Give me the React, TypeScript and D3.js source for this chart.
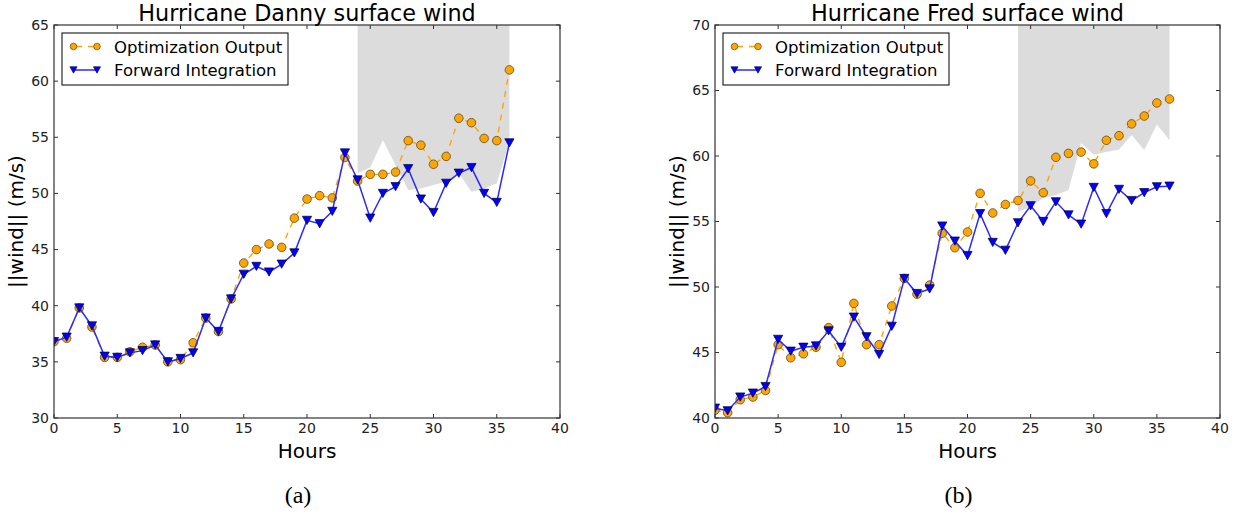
import React from "react";
import * as d3 from "d3";

const hours = [0, 1, 2, 3, 4, 5, 6, 7, 8, 9, 10, 11, 12, 13, 14, 15, 16, 17, 18, 19, 20, 21, 22, 23, 24, 25, 26, 27, 28, 29, 30, 31, 32, 33, 34, 35, 36];
const xTicks = [0, 5, 10, 15, 20, 25, 30, 35, 40];

const dannyOpt = [36.8, 37.1, 39.8, 38.1, 35.4, 35.4, 35.9, 36.3, 36.5, 35.0, 35.2, 36.7, 38.9, 37.7, 40.6, 43.8, 45.0, 45.5, 45.2, 47.8, 49.5, 49.8, 49.6, 53.2, 51.1, 51.7, 51.7, 51.9, 54.7, 54.3, 52.6, 53.3, 56.7, 56.3, 54.9, 54.7, 61.0];
const dannyFwd = [36.8, 37.2, 39.8, 38.2, 35.5, 35.4, 35.8, 36.0, 36.5, 35.0, 35.3, 35.8, 38.9, 37.7, 40.6, 42.8, 43.5, 43.0, 43.7, 44.7, 47.6, 47.3, 48.4, 53.6, 51.2, 47.8, 50.0, 50.6, 52.2, 49.5, 48.3, 50.9, 51.8, 52.3, 50.0, 49.2, 54.5];
const dannyBandHours = [24, 25, 26, 27, 28, 29, 30, 31, 32, 33, 34, 35, 36];
const dannyBandLow = [51.8, 52.3, 54.75, 52.5, 50.3, 50.45, 50.75, 51.05, 51.8, 50.15, 50.45, 50.9, 54.6];
const dannyYTicks = [30, 35, 40, 45, 50, 55, 60, 65];

const fredOpt = [40.6, 40.4, 41.4, 41.6, 42.1, 45.6, 44.6, 44.9, 45.4, 46.9, 44.25, 48.75, 45.6, 45.6, 48.55, 50.65, 49.45, 50.15, 54.1, 53.0, 54.2, 57.15, 55.65, 56.3, 56.6, 58.1, 57.2, 59.9, 60.2, 60.3, 59.4, 61.2, 61.55, 62.45, 63.05, 64.05, 64.35];
const fredFwd = [40.75, 40.55, 41.6, 41.9, 42.4, 46.0, 45.1, 45.4, 45.5, 46.65, 45.4, 47.7, 46.2, 44.85, 47.0, 50.65, 49.5, 49.85, 54.65, 53.5, 52.4, 55.6, 53.4, 52.8, 54.9, 56.2, 55.0, 56.5, 55.5, 54.8, 57.6, 55.6, 57.45, 56.6, 57.2, 57.65, 57.7];
const fredBandHours = [24, 25, 26, 27, 28, 29, 30, 31, 32, 33, 34, 35, 36];
const fredBandLow = [55.75, 56.1, 56.8, 57.0, 57.4, 61.0, 60.1, 60.3, 60.5, 61.6, 60.45, 62.4, 61.2];
const fredYTicks = [40, 45, 50, 55, 60, 65, 70];

const legendLabels = ["Optimization Output", "Forward Integration"];

const FONT = "'DejaVu Sans', sans-serif";
const ORANGE = "#ffa500";
const BLUE = "#0000ff";

type PanelProps = {
  left: number;
  right: number;
  top: number;
  bottom: number;
  title: string;
  caption: string;
  opt: number[];
  fwd: number[];
  bandHours: number[];
  bandLow: number[];
  yTicks: number[];
  id: string;
};

function tri(x: number, y: number, r: number) {
  return `M${x - r},${y - r * 0.9} L${x + r},${y - r * 0.9} L${x},${y + r * 0.9} Z`;
}

function Panel(p: PanelProps) {
  const x = d3.scaleLinear().domain([0, 40]).range([p.left, p.right]);
  const yMin = p.yTicks[0];
  const yMax = p.yTicks[p.yTicks.length - 1];
  const y = d3.scaleLinear().domain([yMin, yMax]).range([p.bottom, p.top]);

  const band = d3
    .area<number>()
    .x((_, i) => x(p.bandHours[i]))
    .y0((d) => y(d))
    .y1(() => y(yMax));
  const line = d3
    .line<number>()
    .x((_, i) => x(hours[i]))
    .y((d) => y(d));

  const cx = (p.left + p.right) / 2;
  const cy = (p.top + p.bottom) / 2;
  const tickLen = 4;
  const lx = p.left + 8;
  const ly = p.top + 8;

  return (
    <g>
      <defs>
        <clipPath id={"clip-" + p.id}>
          <rect x={p.left} y={p.top} width={p.right - p.left} height={p.bottom - p.top} />
        </clipPath>
      </defs>
      <g clipPath={`url(#clip-${p.id})`}>
        <path d={band(p.bandLow) || ""} fill="#dcdcdc" stroke="none" />
        <path d={line(p.opt) || ""} fill="none" stroke={ORANGE} strokeWidth={1.4} strokeDasharray="6,6" />
        {p.opt.map((v, i) => (
          <circle key={"o" + i} cx={x(hours[i])} cy={y(v)} r={4.3} fill={ORANGE} stroke="#5a4a2a" strokeWidth={0.8} />
        ))}
        <path d={line(p.fwd) || ""} fill="none" stroke="#2a2aff" strokeWidth={1.5} />
        {p.fwd.map((v, i) => (
          <path key={"f" + i} d={tri(x(hours[i]), y(v), 4.6)} fill={BLUE} stroke="#000033" strokeWidth={0.7} />
        ))}
      </g>
      <rect x={p.left} y={p.top} width={p.right - p.left} height={p.bottom - p.top} fill="none" stroke="#333" strokeWidth={1.2} />
      {xTicks.map((t) => (
        <g key={"xt" + t}>
          <line x1={x(t)} x2={x(t)} y1={p.bottom} y2={p.bottom - tickLen} stroke="#333" strokeWidth={1} />
          <line x1={x(t)} x2={x(t)} y1={p.top} y2={p.top + tickLen} stroke="#333" strokeWidth={1} />
          <text x={x(t)} y={p.bottom + 15} fontSize={14} fontFamily={FONT} textAnchor="middle" fill="#222">
            {t}
          </text>
        </g>
      ))}
      {p.yTicks.map((t) => (
        <g key={"yt" + t}>
          <line x1={p.left} x2={p.left + tickLen} y1={y(t)} y2={y(t)} stroke="#333" strokeWidth={1} />
          <line x1={p.right} x2={p.right - tickLen} y1={y(t)} y2={y(t)} stroke="#333" strokeWidth={1} />
          <text x={p.left - 5} y={y(t)} dy="0.35em" fontSize={14} fontFamily={FONT} textAnchor="end" fill="#222">
            {t}
          </text>
        </g>
      ))}
      <text x={cx} y={p.top - 4} fontSize={22.3} fontFamily={FONT} textAnchor="middle" fill="#000">
        {p.title}
      </text>
      <text x={cx} y={458} fontSize={20} fontFamily={FONT} textAnchor="middle" fill="#000">
        Hours
      </text>
      <text
        transform={`translate(${p.left - 31},${cy}) rotate(-90)`}
        fontSize={20}
        fontFamily={FONT}
        textAnchor="middle"
        fill="#000"
      >
        ||wind|| (m/s)
      </text>
      <text x={cx - 9} y={503} fontSize={24} fontFamily="'Liberation Serif', 'DejaVu Serif', serif" textAnchor="middle" fill="#000">
        {p.caption}
      </text>
      <rect x={lx} y={ly} width={226} height={52} fill="#fff" stroke="#000" strokeWidth={1} />
      <line x1={lx + 11} x2={lx + 35} y1={ly + 13.5} y2={ly + 13.5} stroke={ORANGE} strokeWidth={1.4} strokeDasharray="6,6" strokeDashoffset={-3} />
      <circle cx={lx + 11.5} cy={ly + 13.5} r={3.3} fill={ORANGE} stroke="#5a4a2a" strokeWidth={0.7} />
      <circle cx={lx + 35} cy={ly + 13.5} r={3.3} fill={ORANGE} stroke="#5a4a2a" strokeWidth={0.7} />
      <text x={lx + 52} y={ly + 19.5} fontSize={16.5} fontFamily={FONT} fill="#000">
        {legendLabels[0]}
      </text>
      <line x1={lx + 11.5} x2={lx + 35} y1={ly + 37} y2={ly + 37} stroke="#2a2aff" strokeWidth={1.5} />
      <path d={tri(lx + 11.5, ly + 37, 3.6)} fill={BLUE} stroke="#000033" strokeWidth={0.6} />
      <path d={tri(lx + 35, ly + 37, 3.6)} fill={BLUE} stroke="#000033" strokeWidth={0.6} />
      <text x={lx + 52} y={ly + 43} fontSize={16.5} fontFamily={FONT} fill="#000">
        {legendLabels[1]}
      </text>
    </g>
  );
}

export default function App() {
  return (
    <svg
      width={1237}
      height={516}
      style={{ position: "absolute", left: 0, top: 0, background: "#fff" }}
    >
      <rect x={0} y={0} width={1237} height={516} fill="#fff" />
      <Panel
        id="danny"
        left={54}
        right={560}
        top={25}
        bottom={418}
        title="Hurricane Danny surface wind"
        caption="(a)"
        opt={dannyOpt}
        fwd={dannyFwd}
        bandHours={dannyBandHours}
        bandLow={dannyBandLow}
        yTicks={dannyYTicks}
      />
      <Panel
        id="fred"
        left={715}
        right={1220}
        top={25}
        bottom={418}
        title="Hurricane Fred surface wind"
        caption="(b)"
        opt={fredOpt}
        fwd={fredFwd}
        bandHours={fredBandHours}
        bandLow={fredBandLow}
        yTicks={fredYTicks}
      />
    </svg>
  );
}
